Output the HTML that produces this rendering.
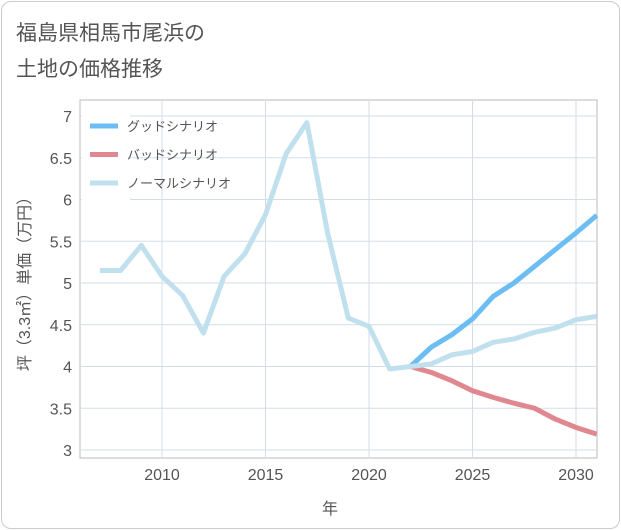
<!DOCTYPE html>
<html><head><meta charset="utf-8"><style>
body{margin:0;background:#fff;font-family:"Liberation Sans","Noto Sans CJK JP",sans-serif;}
#card{position:absolute;left:1px;top:1px;width:617px;height:526px;border:1px solid #ccc;border-radius:10px;background:#fff;}
</style></head><body>
<div id="card"></div>
<svg id="chart" width="621" height="530" style="position:absolute;left:0;top:0">
<text x="16" y="40" font-size="21" fill="#555">福島県相馬市尾浜の</text>
<text x="16" y="76" font-size="21" fill="#555">土地の価格推移</text>
<g id="grid"></g><g id="series"></g><g id="axes"></g>
<text x="330" y="514" font-size="16" fill="#555" text-anchor="middle">年</text>
<text transform="translate(30,280) rotate(-90)" font-size="16" fill="#555" text-anchor="middle">坪（3.3㎡）単価（万円）</text>
<g id="legend"></g>
</svg>
<script>
const years=[2007,2008,2009,2010,2011,2012,2013,2014,2015,2016,2017,2018,2019,2020,2021,2022,2023,2024,2025,2026,2027,2028,2029,2030,2031];
const normal=[5.15,5.15,5.45,5.08,4.85,4.4,5.08,5.35,5.82,6.55,6.92,5.6,4.58,4.48,3.97,4.0,4.03,4.14,4.18,4.29,4.33,4.41,4.46,4.56,4.6];
const goodYears=[2022,2023,2024,2025,2026,2027,2028,2029,2030,2031];
const good=[4.0,4.23,4.38,4.57,4.84,5.0,5.2,5.4,5.6,5.81];
const bad=[4.0,3.93,3.83,3.71,3.63,3.56,3.5,3.37,3.27,3.19];
const xTicks=[2010,2015,2020,2025,2030];
const yTicks=[3,3.5,4,4.5,5,5.5,6,6.5,7];
const legendLabels=["グッドシナリオ","バッドシナリオ","ノーマルシナリオ"];
const NS="http://www.w3.org/2000/svg";
const L=80,R=597,T=100,B=458;
const x=v=>162+(v-2010)*20.7;
const y=v=>450-(v-3)*83.5;
function mk(tag,attrs,parent){const e=document.createElementNS(NS,tag);for(const k in attrs)e.setAttribute(k,attrs[k]);document.getElementById(parent).appendChild(e);return e;}
mk('rect',{x:L,y:T,width:R-L,height:B-T,fill:'none',stroke:'#bbb'},'grid');
for(let v=3;v<=7.01;v+=0.5){const l=mk('line',{x1:L,x2:R,y1:y(v),y2:y(v),stroke:'#d3dde8'},'grid');

}
for(let yr=2010;yr<=2030;yr+=5){const l=mk('line',{x1:x(yr),x2:x(yr),y1:T,y2:B,stroke:'#d3dde8'},'grid');

}
xTicks.forEach(t=>{const e=mk('text',{x:x(t),y:480,'font-size':16,fill:'#555','text-anchor':'middle'},'axes');e.textContent=t;

});
yTicks.forEach(t=>{const e=mk('text',{x:72,y:y(t)+6,'font-size':16,fill:'#555','text-anchor':'end'},'axes');e.textContent=t;

});
function line(xs,vs,color,name){const p=mk('polyline',{points:xs.map((yr,i)=>x(yr)+','+y(vs[i])).join(' '),fill:'none',stroke:color,'stroke-width':5,'stroke-linejoin':'round'},'series');

}
line(goodYears,bad,'#e08890','bad-scenario-line');
line(goodYears,good,'#6bbdf3','good-scenario-line');
line(years,normal,'#c0e0ee','normal-scenario-line');
const lc=['#6bbdf3','#e08890','#c0e0ee'];
mk('rect',{x:82,y:110,width:48,height:90,fill:'#fff'},'legend');
legendLabels.forEach((t,i)=>{const yy=126+i*28.5;
const s=mk('line',{x1:90,x2:118,y1:yy,y2:yy,stroke:lc[i],'stroke-width':5},'legend');


const e=mk('text',{x:127,y:yy+5,'font-size':13,fill:'#555'},'legend');e.textContent=t;

});
</script>
</body></html>
